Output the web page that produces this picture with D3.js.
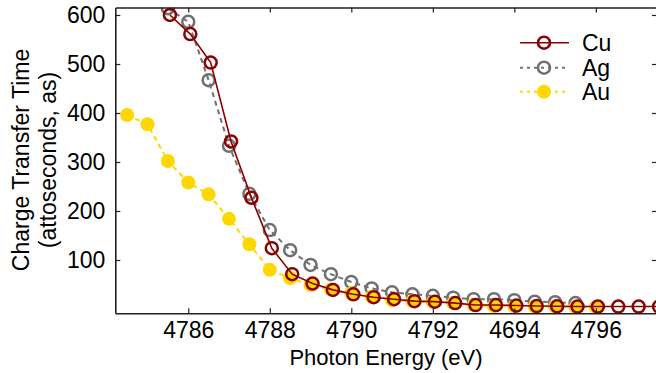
<!DOCTYPE html>
<html>
<head>
<meta charset="utf-8">
<script src="https://cdn.jsdelivr.net/npm/d3@7"></script>
<style>
  body { margin: 0; background: #fff; }
  svg { display: block; font-family: "Liberation Sans", Arial, sans-serif; }
</style>
</head>
<body>
<script>
// values
var cuEnergy = [4785.55, 4786.05, 4786.55, 4787.05, 4787.55, 4788.05, 4788.55, 4789.05, 4789.55, 4790.05,
                4790.55, 4791.05, 4791.55, 4792.05, 4792.55, 4793.05, 4793.55, 4794.05, 4794.55, 4795.05,
                4795.55, 4796.05, 4796.55, 4797.05, 4797.55];
var cuTime = [600, 561, 503, 342, 227, 124, 71, 52, 39, 30,
              24, 20, 16, 15, 12, 8, 8, 7, 6, 5.5,
              5, 5, 5, 5, 5];

var agEnergy = [4785.5, 4786, 4786.5, 4787, 4787.5, 4788, 4788.5, 4789, 4789.5, 4790,
                4790.5, 4791, 4791.5, 4792, 4792.5, 4793, 4793.5, 4794, 4794.5, 4795, 4795.5];
var agTime = [614, 586, 467, 333, 235, 161, 120, 90, 71, 55,
              42, 34, 30, 27, 23, 20, 20, 18, 15, 14, 12];

var auEnergy = [4784.5, 4785, 4785.5, 4786, 4786.5, 4787, 4787.5, 4788, 4788.5, 4789,
                4789.5, 4790, 4790.5, 4791, 4791.5, 4792, 4792.5, 4793, 4793.5, 4794,
                4794.5, 4795, 4795.5, 4796];
var auTime = [396, 377, 302, 258, 234, 184, 132, 80, 63, 49,
              40, 32, 25, 18, 16, 14, 12, 8, 6, 5,
              5, 5, 4, 4];

var xTickValues = [4786, 4788, 4790, 4792, 4794, 4796];
var xTickLabels = ["4786", "4788", "4790", "4792", "4694", "4796"];
var yTickValues = [100, 200, 300, 400, 500, 600];
var seriesNames = ["Cu", "Ag", "Au"];

var width = 656, height = 373;
var pLeft = 115.3, pRight = 657, pTop = 7.5, pBottom = 313.3;
var fs = 23;

var svg = d3.select("body").append("svg")
  .attr("width", width)
  .attr("height", height);

var x = d3.scaleLinear().domain([4784.21, 4797.5]).range([pLeft, pRight]);
var y = d3.scaleLinear().domain([-8.8, 615.3]).range([pBottom, pTop]);

// clip for the data
svg.append("clipPath").attr("id", "plot")
  .append("rect")
  .attr("x", pLeft).attr("y", pTop)
  .attr("width", pRight - pLeft).attr("height", pBottom - pTop);

var plot = svg.append("g").attr("clip-path", "url(#plot)");

var line = d3.line().x(function(d){ return x(d[0]); }).y(function(d){ return y(d[1]); });

var cu = d3.zip(cuEnergy, cuTime),
    ag = d3.zip(agEnergy, agTime),
    au = d3.zip(auEnergy, auTime);

var cuColor = "#8b0000", agColor = "#707070", auColor = "#ffd700";

// Ag
plot.append("path").datum(ag)
  .attr("d", line)
  .attr("fill", "none")
  .attr("stroke", agColor)
  .attr("stroke-width", 2)
  .attr("stroke-dasharray", "5,4");
plot.selectAll(".ag").data(ag).enter().append("circle")
  .attr("class", "ag")
  .attr("cx", function(d){ return x(d[0]); })
  .attr("cy", function(d){ return y(d[1]); })
  .attr("r", 6)
  .attr("fill", "none")
  .attr("stroke", agColor)
  .attr("stroke-width", 2.5);

// Au
plot.append("path").datum(au)
  .attr("d", line)
  .attr("fill", "none")
  .attr("stroke", auColor)
  .attr("stroke-width", 2)
  .attr("stroke-dasharray", "5,4");
plot.selectAll(".au").data(au).enter().append("circle")
  .attr("class", "au")
  .attr("cx", function(d){ return x(d[0]); })
  .attr("cy", function(d){ return y(d[1]); })
  .attr("r", 7)
  .attr("fill", auColor);

// Cu
plot.append("path").datum(cu)
  .attr("d", line)
  .attr("fill", "none")
  .attr("stroke", cuColor)
  .attr("stroke-width", 1.6);
plot.selectAll(".cu").data(cu).enter().append("circle")
  .attr("class", "cu")
  .attr("cx", function(d){ return x(d[0]); })
  .attr("cy", function(d){ return y(d[1]); })
  .attr("r", 6)
  .attr("fill", "none")
  .attr("stroke", cuColor)
  .attr("stroke-width", 2.5);

// axes, ticks pointing inward
var xAxis = d3.axisBottom(x).tickValues(xTickValues).tickSizeInner(-5).tickSizeOuter(0).tickPadding(8)
  .tickFormat(function(d, i){ return xTickLabels[i]; });
var gx = svg.append("g").attr("transform", "translate(0," + pBottom + ")").call(xAxis);
gx.selectAll("text").attr("font-size", fs).attr("fill", "#000").attr("font-family", "Liberation Sans, Arial, sans-serif");

var yAxis = d3.axisLeft(y).tickValues(yTickValues).tickSizeInner(-5).tickSizeOuter(0).tickPadding(10);
var gy = svg.append("g").attr("transform", "translate(" + pLeft + ",0)").call(yAxis);
gy.selectAll("text").attr("font-size", fs).attr("fill", "#000").attr("font-family", "Liberation Sans, Arial, sans-serif");

var gt = svg.append("g").attr("transform", "translate(0," + pTop + ")")
  .call(d3.axisTop(x).tickValues(xTickValues).tickSizeInner(-5).tickSizeOuter(0).tickFormat(""));
var gr = svg.append("g").attr("transform", "translate(" + pRight + ",0)")
  .call(d3.axisRight(y).tickValues(yTickValues).tickSizeInner(-5).tickSizeOuter(0).tickFormat(""));

[gx, gy, gt, gr].forEach(function(g){
  g.select(".domain").attr("stroke", "#222").attr("stroke-width", 1.6);
  g.selectAll(".tick line").attr("stroke", "#222").attr("stroke-width", 1.2);
});

// axis labels
svg.append("text")
  .attr("x", 386).attr("y", 365)
  .attr("text-anchor", "middle")
  .attr("font-size", 22)
  .text("Photon Energy (eV)");

var ylab = svg.append("text")
  .attr("transform", "translate(29,160) rotate(-90)")
  .attr("text-anchor", "middle")
  .attr("font-size", fs);
ylab.append("tspan").attr("x", 0).attr("y", 0).text("Charge Transfer Time");
ylab.append("tspan").attr("x", 0).attr("y", 27).text("(attoseconds, as)");

// legend
var legY = [42.7, 67.7, 91.7];
var leg = svg.append("g");
// Cu
leg.append("line").attr("x1", 520).attr("x2", 569).attr("y1", legY[0]).attr("y2", legY[0])
  .attr("stroke", cuColor).attr("stroke-width", 1.6);
leg.append("circle").attr("cx", 544).attr("cy", legY[0]).attr("r", 6)
  .attr("fill", "none").attr("stroke", cuColor).attr("stroke-width", 2.5);
// Ag
leg.append("line").attr("x1", 520).attr("x2", 569).attr("y1", legY[1]).attr("y2", legY[1])
  .attr("stroke", agColor).attr("stroke-width", 2).attr("stroke-dasharray", "3,4");
leg.append("circle").attr("cx", 544).attr("cy", legY[1]).attr("r", 6)
  .attr("fill", "none").attr("stroke", agColor).attr("stroke-width", 2.5);
// Au
leg.append("line").attr("x1", 520).attr("x2", 569).attr("y1", legY[2]).attr("y2", legY[2])
  .attr("stroke", auColor).attr("stroke-width", 2).attr("stroke-dasharray", "3,4");
leg.append("circle").attr("cx", 544).attr("cy", legY[2]).attr("r", 7)
  .attr("fill", auColor);

leg.selectAll(".lt").data(seriesNames).enter().append("text")
  .attr("class", "lt")
  .attr("x", 582)
  .attr("y", function(d, i){ return legY[i] + 8; })
  .attr("font-size", fs)
  .text(function(d){ return d; });
</script>
</body>
</html>
